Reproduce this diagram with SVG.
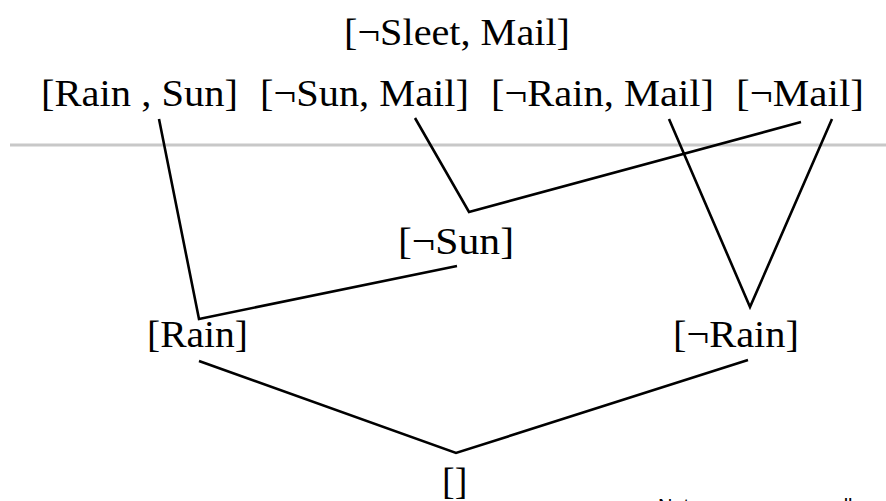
<svg xmlns="http://www.w3.org/2000/svg" width="886" height="501" viewBox="0 0 886 501">
<style>
.n { font-family: "Liberation Serif", "Times New Roman", serif; font-size: 38px; fill: #000; }
.c { fill: none; stroke: #000; stroke-width: 2.6; stroke-linejoin: miter; }
.note { font-family: "Liberation Sans", Arial, sans-serif; font-size: 20px; fill: #000; }
</style>
<rect width="886" height="501" fill="#fff"/>
<line x1="10" y1="145" x2="886" y2="145" stroke="#c8c8c8" stroke-width="3"/>
<g id="connectors">
<polyline class="c" points="159,119 199,319 457,266"/>
<polyline class="c" points="415,118 469,212 801,122"/>
<polyline class="c" points="669,119 750,307 832,119"/>
<polyline class="c" points="199,361 456,453 748,360"/>
</g>
<g id="n-sleet-mail"><text class="n" x="344" y="45" textLength="226" lengthAdjust="spacingAndGlyphs">[¬Sleet, Mail]</text></g>
<g id="n-rain-sun"><text class="n" x="41" y="106" textLength="197" lengthAdjust="spacingAndGlyphs">[Rain , Sun]</text></g>
<g id="n-nsun-mail"><text class="n" x="260" y="106" textLength="209" lengthAdjust="spacingAndGlyphs">[¬Sun, Mail]</text></g>
<g id="n-nrain-mail"><text class="n" x="491" y="106" textLength="223" lengthAdjust="spacingAndGlyphs">[¬Rain, Mail]</text></g>
<g id="n-nmail"><text class="n" x="736" y="106" textLength="128" lengthAdjust="spacingAndGlyphs">[¬Mail]</text></g>
<g id="n-nsun"><text class="n" x="398" y="254" textLength="116" lengthAdjust="spacingAndGlyphs">[¬Sun]</text></g>
<g id="n-rain"><text class="n" x="147" y="347" textLength="101" lengthAdjust="spacingAndGlyphs">[Rain]</text></g>
<g id="n-nrain"><text class="n" x="673" y="347" textLength="126" lengthAdjust="spacingAndGlyphs">[¬Rain]</text></g>
<g id="n-empty"><text class="n" x="442" y="494">[]</text></g>
<text class="note" x="658" y="513">Not necessary as well</text>
</svg>
